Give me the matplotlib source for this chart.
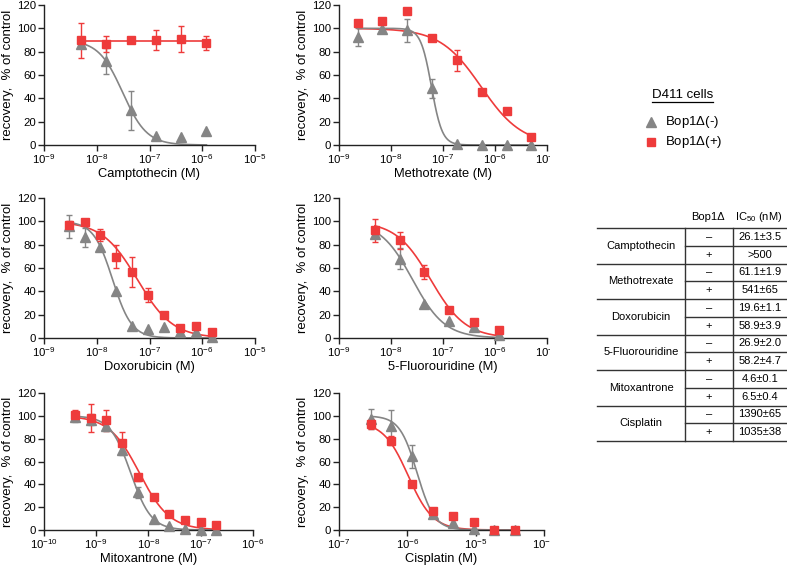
import numpy as np
import matplotlib
matplotlib.use('Agg')
import matplotlib.pyplot as plt
from matplotlib.transforms import Bbox, IdentityTransform, TransformedBbox

plt.rcParams['font.family'] = ['Liberation Sans', 'DejaVu Sans']
plt.rcParams['mathtext.fontset'] = 'custom'
plt.rcParams['mathtext.rm'] = 'Liberation Sans'
plt.rcParams['mathtext.it'] = 'Liberation Sans:italic'
plt.rcParams['mathtext.bf'] = 'Liberation Sans:bold'

RED = '#EE3B3B'
GREY = '#858585'
AXC = '#222222'

# ---------------- data ----------------
drugs = ['Camptothecin', 'Methotrexate', 'Doxorubicin', '5-Fluorouridine', 'Mitoxantrone', 'Cisplatin']

campto_x = [5e-9, 1.5e-8, 4.5e-8, 1.35e-7, 4e-7, 1.2e-6]
campto_red = [89.7, 86.8, 89.7, 90.3, 91.1, 87.1]
campto_red_err = [15, 7, 2, 8.5, 11, 6]
campto_grey = [86.5, 71.8, 29.7, 8.0, 6.6, 12.4]
campto_grey_err = [0, 11, 17, 0, 0, 0]

metho_x = [2.29e-9, 6.86e-9, 2.06e-8, 6.17e-8, 1.85e-7, 5.56e-7, 1.67e-6, 5e-6]
metho_red = [104.7, 106.4, 114.8, 91.7, 72.7, 45.6, 28.8, 6.6]
metho_red_err = [0, 2, 0, 2, 9, 2, 0, 0]
metho_grey = [92.6, 99.5, 98.4, 48.5, 1.0, 0, 0, 0]
metho_grey_err = [8, 3, 10, 8, 0, 0, 0, 0]

doxo_x = [2.93e-9, 5.86e-9, 1.17e-8, 2.34e-8, 4.69e-8, 9.38e-8, 1.875e-7, 3.75e-7, 7.5e-7, 1.5e-6]
doxo_red = [96.5, 99.3, 88.4, 69.8, 56.8, 36.7, 19.5, 8.6, 10.0, 5.2]
doxo_red_err = [4, 0, 5, 10, 13, 6, 0, 0, 0, 0]
doxo_grey = [95.6, 86.4, 78.4, 40.2, 10.3, 7.5, 9.5, 5.2, 5.2, 1.0]
doxo_grey_err = [10, 8, 0, 0, 0, 0, 0, 0, 0, 0]

fluo_x = [4.9e-9, 1.48e-8, 4.4e-8, 1.33e-7, 4e-7, 1.2e-6]
fluo_red = [92.3, 83.7, 56.3, 24.3, 13.4, 7.1]
fluo_red_err = [10, 7, 6, 0, 0, 0]
fluo_grey = [89.4, 68.0, 29.4, 14.3, 9.1, 2.9]
fluo_grey_err = [3, 9, 0, 0, 0, 0]

mito_x = [3.9e-10, 7.8e-10, 1.5625e-9, 3.125e-9, 6.25e-9, 1.25e-8, 2.5e-8, 5e-8, 1e-7, 2e-7]
mito_red = [101, 98, 96, 76.2, 46.1, 28.6, 14.3, 8.5, 7.0, 4.7]
mito_red_err = [4, 12, 9, 10, 3, 0, 0, 0, 0, 0]
mito_grey = [99, 96.6, 91.4, 69.8, 33.0, 9.6, 3.8, 0.9, 0.3, 0.3]
mito_grey_err = [4, 5, 5, 4, 5, 0, 0, 0, 0, 0]

cis_x = [2.93e-7, 5.86e-7, 1.17e-6, 2.34e-6, 4.69e-6, 9.375e-6, 1.875e-5, 3.75e-5]
cis_red = [92.8, 78.2, 40.3, 16.4, 12.6, 7.0, 0.3, 0.3]
cis_red_err = [4, 4, 0, 0, 0, 0, 0, 0]
cis_grey = [97.2, 90.8, 64.5, 14.3, 6.1, 0.9, 0, 0]
cis_grey_err = [9, 14, 10, 0, 0, 0, 0, 0]

# fitted dose-response curve parameters: (top, bottom, EC50, Hill slope)
fit_grey = [(90, 0, 3.1e-8, 1.9), (100, 0, 6.0e-8, 4.2), (100, 0, 2.0e-8, 2.4),
            (100, 0, 2.6e-8, 1.4), (100, 0, 4.57e-9, 2.2), (100, 0, 1.39e-6, 3.4)]
fit_red = [(89, 89, 1e-7, 1.0), (100, 0, 5.4e-7, 1.1), (100, 0, 5.9e-8, 1.3),
           (100, 0, 5.8e-8, 1.3), (100, 0, 6.7e-9, 1.5), (95, 0, 1.03e-6, 2.4)]

xlims = [(-9, -5), (-9, -5), (-9, -5), (-9, -5), (-10, -6), (-7, -4)]

yticks = [0, 20, 40, 60, 80, 100, 120]

table_sign = ['–', '+']
table_values = ['26.1±3.5', '>500', '61.1±1.9', '541±65', '19.6±1.1', '58.9±3.9',
                '26.9±2.0', '58.2±4.7', '4.6±0.1', '6.5±0.4', '1390±65', '1035±38']

panels = [
    (campto_x, campto_red, campto_red_err, campto_grey, campto_grey_err),
    (metho_x, metho_red, metho_red_err, metho_grey, metho_grey_err),
    (doxo_x, doxo_red, doxo_red_err, doxo_grey, doxo_grey_err),
    (fluo_x, fluo_red, fluo_red_err, fluo_grey, fluo_grey_err),
    (mito_x, mito_red, mito_red_err, mito_grey, mito_grey_err),
    (cis_x, cis_red, cis_red_err, cis_grey, cis_grey_err),
]

# ---------------- layout (pixels: left, top, right, bottom) ----------------
W, H = 787, 568
boxes = [(44, 5, 255, 145), (339, 5, 547, 145),
         (44, 198, 255, 338), (339, 198, 547, 338),
         (44, 393, 253, 530), (339, 393, 544, 530)]

fig = plt.figure(figsize=(W / 100, H / 100), dpi=100)


def sigmoid(x, p):
    top, bottom, ec50, h = p
    return bottom + (top - bottom) / (1 + (x / ec50) ** h)


def draw_series(ax, x, y, e, color, marker, ms):
    x = np.asarray(x); y = np.asarray(y); e = np.asarray(e, dtype=float)
    m = e > 0
    if m.any():
        ax.errorbar(x[m], y[m], yerr=e[m], fmt='none', ecolor=color, elinewidth=1.0,
                    capsize=2.2, capthick=1.0, clip_on=False, zorder=3)
    ax.plot(x, y, ls='none', marker=marker, color=color, mec=color, ms=ms,
            clip_on=False, zorder=4)


clipbox = TransformedBbox(Bbox([[0, 0], [550, H]]), IdentityTransform())

for i, (box, data) in enumerate(zip(boxes, panels)):
    l, t, r, b = box
    ax = fig.add_axes([l / W, 1 - b / H, (r - l) / W, (b - t) / H])
    x, yr, er, yg, eg = data
    xs = np.logspace(np.log10(min(x)), np.log10(max(x)), 300)
    ax.plot(xs, sigmoid(xs, fit_red[i]), color=RED, lw=1.2, zorder=2)
    ax.plot(xs, sigmoid(xs, fit_grey[i]), color=GREY, lw=1.2, zorder=2)
    draw_series(ax, x, yg, eg, GREY, '^', 7.5)
    draw_series(ax, x, yr, er, RED, 's', 5.8)

    ax.set_xscale('log')
    lo, hi = xlims[i]
    ax.set_xlim(10.0 ** lo, 10.0 ** hi)
    ax.set_ylim(0, 120)
    ex = list(range(lo, hi + 1))
    ax.set_xticks([10.0 ** k for k in ex])
    ax.set_xticklabels([r'$\mathregular{10^{%d}}$' % k for k in ex])
    ax.xaxis.set_minor_locator(matplotlib.ticker.NullLocator())
    ax.set_yticks(yticks)
    ax.set_yticklabels([str(v) for v in yticks])
    for s in ['top', 'right']:
        ax.spines[s].set_visible(False)
    for s in ['left', 'bottom']:
        ax.spines[s].set_color(AXC)
        ax.spines[s].set_linewidth(1.0)
    ax.tick_params(axis='both', direction='out', length=4, width=1.0, color=AXC,
                   labelsize=8.2, pad=1.5, labelcolor='black')
    ax.set_xlabel(drugs[i] + ' (M)', fontsize=9.3, labelpad=1)
    ax.set_ylabel('recovery,  % of control', fontsize=9.5, labelpad=2)
    for lab in ax.get_xticklabels():
        lab.set_clip_box(clipbox)
        lab.set_clip_on(True)

# ---------------- overlay: legend + table ----------------
ov = fig.add_axes([0, 0, 1, 1])
ov.set_xlim(0, W)
ov.set_ylim(H, 0)
ov.axis('off')
ov.patch.set_visible(False)

ov.text(682.5, 95, 'D411 cells', fontsize=9.5, ha='center', va='center')
ov.plot([652, 713], [102, 102], color='black', lw=0.9)
ov.plot([651], [122], marker='^', color=GREY, ms=7.5, ls='none')
ov.text(665, 122, r'Bop1$\mathit{\Delta}$(-)', fontsize=9.5, ha='left', va='center')
ov.plot([651], [142], marker='s', color=RED, ms=5.8, ls='none')
ov.text(665, 142, r'Bop1$\mathit{\Delta}$(+)', fontsize=9.5, ha='left', va='center')

tl, tr, c1, c2 = 597, 786, 685, 733
ttop, rowh = 228, 17.75
LC = '#333333'
ov.text(708, 217, 'Bop1Δ', fontsize=8, ha='center', va='center')
ov.text(759, 217, r'IC$_{\mathregular{50}}$ (nM)', fontsize=8, ha='center', va='center')
ov.plot([tl, tr], [ttop, ttop], color=LC, lw=1.0)
nrows = 2 * len(drugs)
for k in range(1, nrows + 1):
    yy = ttop + k * rowh
    if k % 2 == 0:
        ov.plot([tl, tr], [yy, yy], color=LC, lw=1.0)
    else:
        ov.plot([c1, tr], [yy, yy], color=LC, lw=1.0)
ov.plot([c1, c1], [ttop, ttop + nrows * rowh], color=LC, lw=1.0)
ov.plot([c2, c2], [ttop, ttop + nrows * rowh], color=LC, lw=1.0)
for i, d in enumerate(drugs):
    ov.text(641, ttop + (2 * i + 1) * rowh, d, fontsize=8, ha='center', va='center')
for k in range(nrows):
    yy = ttop + (k + 0.5) * rowh
    ov.text(709, yy, table_sign[k % 2], fontsize=8, ha='center', va='center')
    ov.text(760, yy, table_values[k], fontsize=8, ha='center', va='center')

fig.savefig('out.png', dpi=100)
